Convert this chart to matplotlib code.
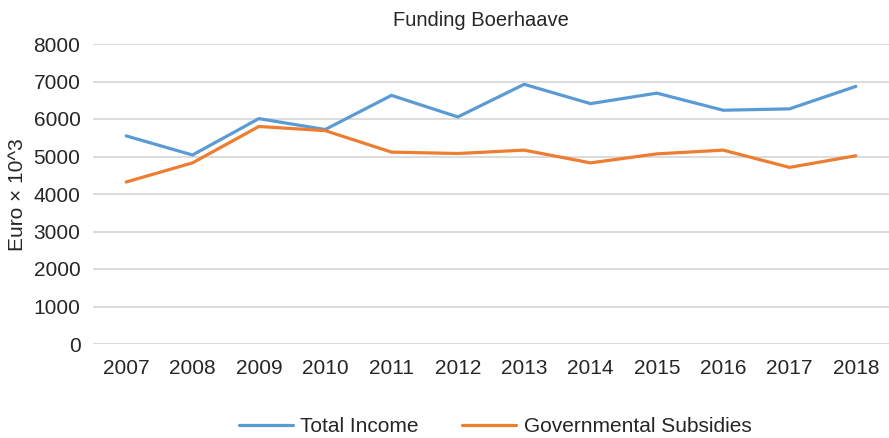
import matplotlib
matplotlib.use("Agg")
import matplotlib.pyplot as plt

years = ["2007", "2008", "2009", "2010", "2011", "2012",
         "2013", "2014", "2015", "2016", "2017", "2018"]
total_income = [5550, 5040, 6010, 5720, 6630, 6055,
                6925, 6410, 6690, 6234, 6270, 6870]
gov_subsidies = [4320, 4830, 5800, 5690, 5117, 5080,
                 5170, 4830, 5070, 5170, 4710, 5020]
yticks = [0, 1000, 2000, 3000, 4000, 5000, 6000, 7000, 8000]

plt.rcParams['font.family'] = ['Liberation Sans', 'DejaVu Sans']
text_color = '#262626'

W, H = 889, 438
fig = plt.figure(figsize=(W / 100, H / 100), dpi=100)
ax = fig.add_axes([93 / W, 1 - 344 / H, (889 - 93) / W, (344 - 44) / H])

x = list(range(len(years)))
ax.plot(x, total_income, color='#5B9BD5', lw=2.3, solid_capstyle='round',
        solid_joinstyle='miter', label='Total Income', zorder=3)
ax.plot(x, gov_subsidies, color='#ED7D31', lw=2.3, solid_capstyle='round',
        solid_joinstyle='miter', label='Governmental Subsidies', zorder=3)

ax.set_xlim(-0.5, len(years) - 0.5)
ax.set_ylim(0, 8000)
ax.set_yticks(yticks)
ax.set_yticklabels([str(v) for v in yticks])
ax.set_xticks(x)
ax.set_xticklabels(years)
for s in ax.spines.values():
    s.set_visible(False)
ax.yaxis.grid(True, color='#d9d9d9', lw=1.3)
ax.set_axisbelow(True)
ax.tick_params(axis='both', length=0, labelsize=15, colors=text_color)
ax.tick_params(axis='y', pad=9)
ax.tick_params(axis='x', pad=11)

fig.text(18 / W, 1 - 195 / H, 'Euro × 10^3', rotation=90, ha='center',
         va='center', fontsize=15, color=text_color)
fig.text(481 / W, 1 - 20 / H, 'Funding Boerhaave', ha='center', va='center',
         fontsize=14.5, color=text_color)

leg = fig.legend(loc='center', bbox_to_anchor=(495 / W, 1 - 427 / H), ncol=2,
                 frameon=False, fontsize=15, handlelength=2.6,
                 handletextpad=0.35, columnspacing=2.1, borderpad=0)
for t in leg.get_texts():
    t.set_color(text_color)

fig.savefig('out.png', dpi=100)
